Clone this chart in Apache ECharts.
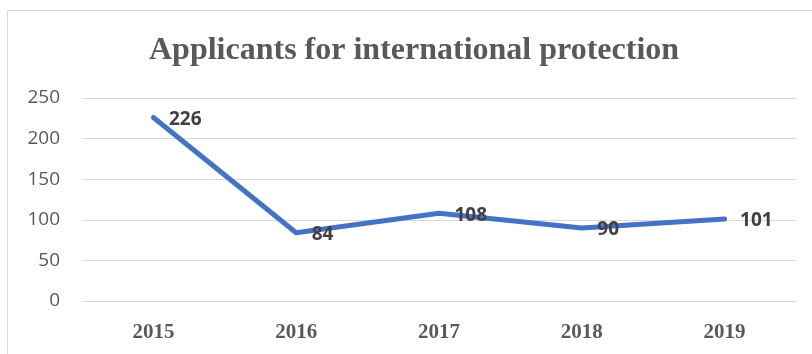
<!DOCTYPE html>
<html><head><meta charset="utf-8">
<script src="https://cdn.jsdelivr.net/npm/echarts@6/dist/echarts.min.js"></script>
<style>html,body{margin:0;padding:0;background:#fff}#c{width:812px;height:354px}</style>
</head><body><div id="c"></div>
<script>
const categories = ['2015','2016','2017','2018','2019'];
const values = [226, 84, 108, 90, 101];
const yTicks = [0, 50, 100, 150, 200, 250];
const titleText = 'Applicants for international protection';

const chart = echarts.init(document.getElementById('c'));
chart.setOption({
  animation: false,
  backgroundColor: '#fff',
  graphic: [{
    type: 'rect', left: 5, top: 8, shape: {width: 820, height: 360},
    style: {fill: 'none', stroke: '#d9d9d9', lineWidth: 1}, silent: true, z: -1
  }],
  title: {
    text: titleText, left: 144, top: 30,
    textStyle: {fontFamily: 'Liberation Serif', fontWeight: 'bold', fontSize: 32, color: '#595959'}
  },
  grid: {left: 82, right: 16, top: 98, bottom: 53},
  xAxis: {
    type: 'category', data: categories, boundaryGap: true,
    axisLine: {show: false}, axisTick: {show: false},
    axisLabel: {fontFamily: 'Liberation Serif', fontWeight: 'bold', fontSize: 21, color: '#595959', margin: 21}
  },
  yAxis: {
    type: 'value', min: yTicks[0], max: yTicks[yTicks.length-1], interval: 50,
    axisLine: {show: false}, axisTick: {show: false},
    splitLine: {lineStyle: {color: '#d9d9d9', width: 1}},
    axisLabel: {fontFamily: 'Open Sans', fontSize: 19, color: '#595959', margin: 22}
  },
  series: [{
    type: 'line', data: values, symbol: 'circle', symbolSize: 3, showSymbol: true, showAllSymbol: true,
    lineStyle: {color: '#4472C4', width: 5, cap: 'round', join: 'round'},
    itemStyle: {color: '#4472C4'},
    label: {show: true, position: 'right', distance: 14, offset: [0, 2], fontFamily: 'Open Sans', fontWeight: 'bold', fontSize: 19, color: '#404040'}
  }]
});
</script></body></html>
